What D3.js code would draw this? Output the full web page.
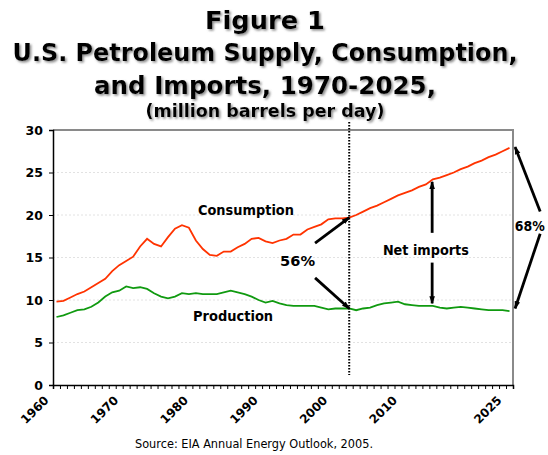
<!DOCTYPE html>
<html>
<head>
<meta charset="utf-8">
<script src="https://cdn.jsdelivr.net/npm/d3@7"></script>
<style>
body{margin:0;background:#fff;}
text{font-family:"DejaVu Sans",Verdana,sans-serif;}
</style>
</head>
<body>
<svg id="chart" width="548" height="455"></svg>
<script>
// years on the category axis, 1960..2025
var years = [
	1960,1961,1962,1963,1964,1965,1966,1967,1968,1969,
	1970,1971,1972,1973,1974,1975,1976,1977,1978,1979,
	1980,1981,1982,1983,1984,1985,1986,1987,1988,1989,
	1990,1991,1992,1993,1994,1995,1996,1997,1998,1999,
	2000,2001,2002,2003,2004,2005,2006,2007,2008,2009,
	2010,2011,2012,2013,2014,2015,2016,2017,2018,2019,
	2020,2021,2022,2023,2024,2025];

// million barrels per day
var consumption = [
	9.8,9.9,10.3,10.7,11.0,11.5,12.0,12.5,13.4,14.1,
	14.6,15.1,16.3,17.2,16.6,16.3,17.4,18.4,18.8,18.5,
	17.0,16.0,15.3,15.2,15.7,15.7,16.2,16.6,17.2,17.3,
	16.9,16.7,17.0,17.2,17.7,17.7,18.3,18.6,18.9,19.5,
	19.6,19.6,19.7,20.0,20.4,20.8,21.1,21.5,21.9,22.3,
	22.6,22.9,23.3,23.6,24.2,24.4,24.7,25.0,25.4,25.7,
	26.1,26.4,26.8,27.1,27.5,27.9];

var production = [
	8.0,8.2,8.5,8.8,8.9,9.2,9.7,10.4,10.9,11.1,
	11.6,11.4,11.5,11.3,10.8,10.4,10.2,10.4,10.8,10.7,
	10.8,10.7,10.7,10.7,10.9,11.1,10.9,10.7,10.4,10.0,
	9.7,9.9,9.6,9.4,9.3,9.3,9.3,9.3,9.1,8.9,
	9.0,9.0,9.0,8.8,9.0,9.1,9.4,9.6,9.7,9.8,
	9.5,9.4,9.3,9.3,9.3,9.1,9.0,9.1,9.2,9.1,
	9.0,8.9,8.8,8.8,8.8,8.7];

var yTicks = [0,5,10,15,20,25,30];
var xLabels = [1960,1970,1980,1990,2000,2010,2025];
var lastHistory = 2002;

var titleLines = [
	"Figure 1",
	"U.S. Petroleum Supply, Consumption,",
	"and Imports, 1970-2025,",
	"(million barrels per day)"];
var sourceNote = "Source: EIA Annual Energy Outlook, 2005.";

// annotations in data units [year, value]
var arrows = [
	{from:[1997.1,16.7], to:[2002,19.7]},
	{from:[1997.1,12.6], to:[2002,9.0]},
	{from:[2013.9,17.9], to:[2013.9,23.9]},
	{from:[2013.9,14.4], to:[2013.9,9.6]},
	{from:[2029.4,20.4], to:[2025.8,28.0]},
	{from:[2029.4,17.8], to:[2025.8,9.0]}
];
var notes = [
	{text:"Consumption", at:[1980.3,20.0], anchor:"start", len:96},
	{text:"Production", at:[1979.6,7.55], anchor:"start", len:80},
	{text:"56%", at:[1994.6,14.0], anchor:"middle", len:35},
	{text:"Net imports", at:[2013.0,15.3], anchor:"middle", len:86},
	{text:"68%", at:[2025.75,18.1], anchor:"start", len:30}
];

var LEFT=53, RIGHT=513, TOP=130, BOTTOM=385;

var svg = d3.select("#chart");

var x = d3.scaleLinear().domain([1959.5,2025.5]).range([LEFT,RIGHT]);
var y = d3.scaleLinear().domain([0,30]).range([BOTTOM,TOP]);

var defs = svg.append("defs");
defs.append("filter")
	.attr("id","shadow")
	.attr("x","-5%").attr("y","-20%").attr("width","110%").attr("height","150%")
	.append("feDropShadow")
	.attr("dx",1.6).attr("dy",1.6)
	.attr("stdDeviation",0.9)
	.attr("flood-color","#777")
	.attr("flood-opacity",0.85);
defs.append("marker")
	.attr("id","head")
	.attr("markerUnits","userSpaceOnUse")
	.attr("viewBox","0 0 10 10")
	.attr("refX",9).attr("refY",5)
	.attr("markerWidth",8).attr("markerHeight",8)
	.attr("orient","auto")
	.append("path")
	.attr("d","M0,1.5 L10,5 L0,8.5 Z")
	.attr("fill","#000");

// title
var titleSpec = [
	{base:29, size:24, len:120},
	{base:61, size:24, len:505},
	{base:94, size:24, len:342},
	{base:117, size:17, len:239}];
svg.append("g").attr("class","title")
	.selectAll("text")
	.data(titleLines)
	.enter().append("text")
	.attr("x",265)
	.attr("y",function(d,i){return titleSpec[i].base;})
	.attr("text-anchor","middle")
	.attr("font-weight","bold")
	.attr("font-size",function(d,i){return titleSpec[i].size;})
	.attr("textLength",function(d,i){return titleSpec[i].len;})
	.attr("lengthAdjust","spacingAndGlyphs")
	.attr("filter","url(#shadow)")
	.text(function(d){return d;});

// grid
svg.append("g").attr("class","grid")
	.selectAll("line")
	.data(yTicks.filter(function(t){return t>0 && t<30;}))
	.enter().append("line")
	.attr("x1",LEFT).attr("x2",RIGHT)
	.attr("y1",function(d){return y(d);})
	.attr("y2",function(d){return y(d);})
	.attr("stroke","#e2e2e2")
	.attr("stroke-dasharray","2,2");

// frame top/right in gray
svg.append("path")
	.attr("d","M"+LEFT+","+y(30)+"H"+RIGHT+"V"+BOTTOM)
	.attr("fill","none")
	.attr("stroke","#8a8a8a")
	.attr("stroke-width",2);

// y axis
var yAxis = d3.axisLeft(y).tickValues(yTicks).tickSize(4).tickPadding(6);
var gy = svg.append("g").attr("transform","translate("+LEFT+",0)").call(yAxis);
gy.select(".domain").attr("stroke","#000").attr("stroke-width",1.5);
gy.selectAll(".tick line").attr("stroke","#000");
gy.selectAll("text")
	.attr("font-family","DejaVu Sans")
	.attr("font-weight","bold")
	.attr("font-size",12.5)
	.attr("fill","#000");

// x axis: minor tick at every category boundary
var bounds = years.map(function(d){return d-0.5;}).concat([2025.5]);
var xAxis = d3.axisBottom(x).tickValues(bounds).tickSize(4).tickFormat("");
var gx = svg.append("g").attr("transform","translate(0,"+BOTTOM+")").call(xAxis);
gx.select(".domain").attr("stroke","#000").attr("stroke-width",1.5);
gx.selectAll(".tick line").attr("stroke","#000");

svg.append("g").attr("class","xlabels")
	.selectAll("text")
	.data(xLabels)
	.enter().append("text")
	.attr("transform",function(d){return "translate("+(x(d)-7)+",401) rotate(-45)";})
	.attr("text-anchor","end")
	.attr("font-weight","bold")
	.attr("font-size",12)
	.text(function(d){return d;});

// series
var line = d3.line()
	.x(function(d){return x(d[0]);})
	.y(function(d){return y(d[1]);});

svg.append("path")
	.datum(years.map(function(yr,i){return [yr,consumption[i]];}))
	.attr("d",line)
	.attr("fill","none")
	.attr("stroke","#ff3300")
	.attr("stroke-width",1.8);

svg.append("path")
	.datum(years.map(function(yr,i){return [yr,production[i]];}))
	.attr("d",line)
	.attr("fill","none")
	.attr("stroke","#109a10")
	.attr("stroke-width",1.8);

// history / projection divider
svg.append("line")
	.attr("x1",x(lastHistory)).attr("x2",x(lastHistory))
	.attr("y1",122).attr("y2",375)
	.attr("stroke","#000")
	.attr("stroke-width",2)
	.attr("stroke-dasharray","1.5,1.5");

// arrows
svg.append("g").attr("class","arrows")
	.selectAll("line")
	.data(arrows)
	.enter().append("line")
	.attr("x1",function(d){return x(d.from[0]);})
	.attr("y1",function(d){return y(d.from[1]);})
	.attr("x2",function(d){return x(d.to[0]);})
	.attr("y2",function(d){return y(d.to[1]);})
	.attr("stroke","#000")
	.attr("stroke-width",2.8)
	.attr("marker-end","url(#head)");

// labels
svg.append("g").attr("class","notes")
	.selectAll("text")
	.data(notes)
	.enter().append("text")
	.attr("x",function(d){return x(d.at[0]);})
	.attr("y",function(d){return y(d.at[1]);})
	.attr("text-anchor",function(d){return d.anchor;})
	.attr("font-weight","bold")
	.attr("font-size",14.5)
	.attr("textLength",function(d){return d.len;})
	.attr("lengthAdjust","spacingAndGlyphs")
	.text(function(d){return d.text;});

svg.append("text")
	.attr("x",254)
	.attr("y",448)
	.attr("text-anchor","middle")
	.attr("font-size",12)
	.attr("textLength",238)
	.attr("lengthAdjust","spacingAndGlyphs")
	.text(sourceNote);
</script>
</body>
</html>
